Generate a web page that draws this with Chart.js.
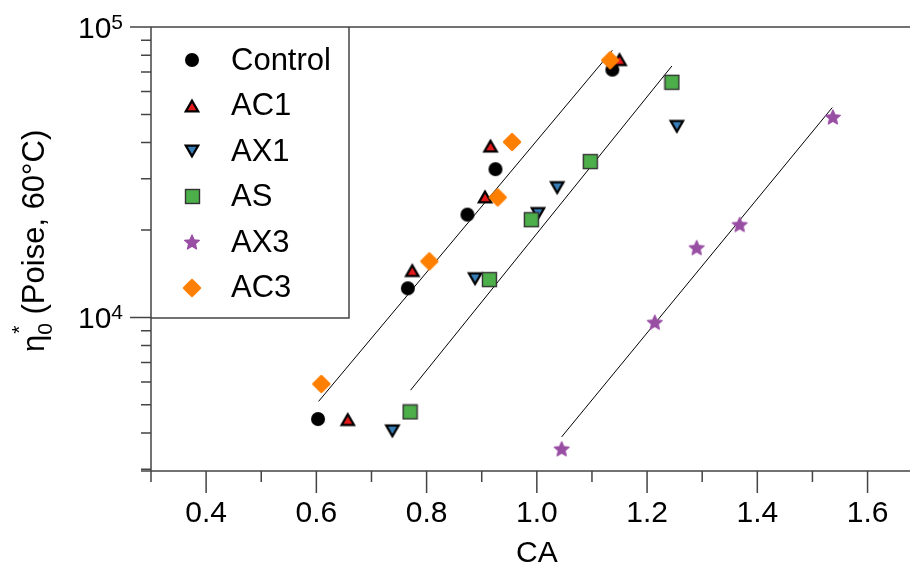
<!DOCTYPE html>
<html>
<head>
<meta charset="utf-8">
<script src="https://cdn.jsdelivr.net/npm/chart.js@4.4.1/dist/chart.umd.min.js"></script>
<style>
  html, body { margin: 0; padding: 0; background: #fff; }
  canvas { display: block; }
</style>
</head>
<body>
<canvas id="myChart" width="918" height="568"></canvas>
<script>
// series names, legend order
const categories = ['Control', 'AC1', 'AX1', 'AS', 'AX3', 'AC3'];

// values (CA, eta0* in Poise)
const controlX = [0.603, 0.766, 0.874, 0.925, 1.137];
const controlY = [4470, 12600, 22600, 32400, 71300];
const ac1X = [0.657, 0.774, 0.906, 0.916, 1.150];
const ac1Y = [4450, 14500, 26000, 38900, 77200];
const ax1X = [0.738, 0.888, 1.002, 1.037, 1.254];
const ax1Y = [4070, 13600, 22800, 28000, 45500];
const asX = [0.770, 0.914, 0.990, 1.097, 1.245];
const asY = [4730, 13500, 21700, 34400, 64500];
const ax3X = [1.045, 1.214, 1.290, 1.368, 1.537];
const ax3Y = [3530, 9630, 17400, 20900, 49000];
const ac3X = [0.609, 0.805, 0.929, 0.955, 1.133];
const ac3Y = [5900, 15600, 25900, 40200, 76800];

// fitted lines, start and end
const fitX = [[0.604, 1.137], [0.771, 1.245], [1.045, 1.536]];
const fitY = [[5140, 83100], [5620, 73400], [3880, 52800]];

// ticks
const xMajor = [0.4, 0.6, 0.8, 1.0, 1.2, 1.4, 1.6];
const xMinor = [0.3, 0.5, 0.7, 0.9, 1.1, 1.3, 1.5];
const yMajor = [10000, 100000];
const yMajorExp = ['4', '5'];
const yMinor = [3000, 4000, 5000, 6000, 7000, 8000, 9000,
                20000, 30000, 40000, 50000, 60000, 70000, 80000, 90000];

const FONT = '"Liberation Sans", Arial, Helvetica, sans-serif';
const AXIS = '#444';

function pts(xs, ys) {
  return xs.map((v, i) => ({ x: v, y: ys[i] }));
}

function newCanvas(s) {
  const c = document.createElement('canvas');
  c.width = s; c.height = s;
  return c;
}

// marker images
function circleMark() {
  const c = newCanvas(16), g = c.getContext('2d');
  g.fillStyle = '#000';
  g.beginPath(); g.arc(8, 8, 7, 0, Math.PI * 2); g.fill();
  return c;
}
function triMark(fill, down) {
  const c = newCanvas(20), g = c.getContext('2d');
  const r = 7.2, h = 1.5 * r, w = r * Math.sqrt(3) / 2;
  const s = down ? -1 : 1;
  g.beginPath();
  g.moveTo(10, 10 - s * h / 2);
  g.lineTo(10 - w, 10 + s * h / 2);
  g.lineTo(10 + w, 10 + s * h / 2);
  g.closePath();
  g.fillStyle = fill; g.fill();
  g.lineWidth = 2.2; g.lineJoin = 'miter'; g.strokeStyle = '#000'; g.stroke();
  return c;
}
function squareMark() {
  const c = newCanvas(17), g = c.getContext('2d');
  g.fillStyle = '#4daf4a';
  g.fillRect(1.5, 1.5, 14, 14);
  g.lineWidth = 1.4; g.strokeStyle = '#333';
  g.strokeRect(1.5, 1.5, 14, 14);
  return c;
}
function starMark() {
  const c = newCanvas(18), g = c.getContext('2d');
  g.beginPath();
  for (let i = 0; i < 10; i++) {
    const r = i % 2 ? 3.6 : 7.8;
    const a = -Math.PI / 2 + i * Math.PI / 5;
    const px = 9 + r * Math.cos(a), py = 9.7 + r * Math.sin(a);
    i ? g.lineTo(px, py) : g.moveTo(px, py);
  }
  g.closePath();
  g.fillStyle = '#984ea3'; g.fill();
  g.lineJoin = 'round'; g.lineWidth = 1.2; g.strokeStyle = '#984ea3'; g.stroke();
  return c;
}
function diamondMark() {
  const c = newCanvas(22), g = c.getContext('2d');
  const r = 7.8;
  g.beginPath();
  g.moveTo(11, 11 - r); g.lineTo(11 + r, 11); g.lineTo(11, 11 + r); g.lineTo(11 - r, 11);
  g.closePath();
  g.fillStyle = '#ff7f00'; g.fill();
  g.lineJoin = 'round'; g.lineWidth = 2.6; g.strokeStyle = '#ff7f00'; g.stroke();
  return c;
}

const markers = [circleMark(), triMark('#e41a1c', false), triMark('#377eb8', true),
                 squareMark(), starMark(), diamondMark()];
const seriesX = [controlX, ac1X, ax1X, asX, ax3X, ac3X];
const seriesY = [controlY, ac1Y, ax1Y, asY, ax3Y, ac3Y];

const datasets = categories.map((name, i) => ({
  type: 'scatter',
  label: name,
  data: pts(seriesX[i], seriesY[i]),
  pointStyle: markers[i],
  pointRadius: 7,
  order: 6 - i
}));
fitX.forEach((fx, i) => {
  datasets.push({
    type: 'line',
    label: 'fit' + (i + 1),
    data: pts(fx, fitY[i]),
    borderColor: '#000',
    borderWidth: 1,
    pointRadius: 0,
    fill: false,
    order: 10
  });
});

// axes, ticks, labels, legend drawn by hand
const framePlugin = {
  id: 'frame',
  afterDraw(chart) {
    const ctx = chart.ctx, a = chart.chartArea;
    const xs = chart.scales.x, ys = chart.scales.y;
    ctx.save();
    ctx.strokeStyle = AXIS;
    ctx.lineWidth = 1.5;
    ctx.beginPath();
    ctx.moveTo(a.left - 21, a.top); ctx.lineTo(a.right, a.top);
    ctx.moveTo(a.left, a.top); ctx.lineTo(a.left, a.bottom);
    ctx.moveTo(a.left - 10, a.bottom); ctx.lineTo(a.right, a.bottom);
    xMajor.forEach(v => {
      const p = xs.getPixelForValue(v);
      ctx.moveTo(p, a.bottom); ctx.lineTo(p, a.bottom + 22);
    });
    xMinor.forEach(v => {
      const p = xs.getPixelForValue(v);
      ctx.moveTo(p, a.bottom); ctx.lineTo(p, a.bottom + 11);
    });
    yMajor.forEach(v => {
      const p = ys.getPixelForValue(v);
      ctx.moveTo(a.left - 21, p); ctx.lineTo(a.left, p);
    });
    yMinor.forEach(v => {
      const p = ys.getPixelForValue(v);
      ctx.moveTo(a.left - 10, p); ctx.lineTo(a.left, p);
    });
    ctx.stroke();

    // tick labels
    ctx.fillStyle = '#000';
    ctx.font = '30px ' + FONT;
    ctx.textAlign = 'center';
    ctx.textBaseline = 'alphabetic';
    xMajor.forEach(v => {
      ctx.fillText(v.toFixed(1), xs.getPixelForValue(v), a.bottom + 51);
    });
    yMajor.forEach((v, i) => {
      const p = ys.getPixelForValue(v);
      ctx.font = '21px ' + FONT;
      const sw = ctx.measureText(yMajorExp[i]).width;
      ctx.textAlign = 'right';
      ctx.fillText(yMajorExp[i], a.left - 28, p + 2);
      ctx.font = '30px ' + FONT;
      ctx.fillText('10', a.left - 28 - sw, p + 11);
    });

    // axis titles
    ctx.textAlign = 'center';
    ctx.font = '30px ' + FONT;
    const mid = (a.left + xs.getPixelForValue(1.7)) / 2;
    ctx.fillText('CA', mid, a.bottom + 91);

    ctx.save();
    ctx.translate(44, 352);
    ctx.rotate(-Math.PI / 2);
    ctx.textAlign = 'left';
    ctx.font = '31px ' + FONT;
    ctx.fillText('\u03b7', 0, 0);
    let w = ctx.measureText('\u03b7').width;
    ctx.font = '21px ' + FONT;
    ctx.fillText('0', w, 8);
    ctx.fillText('*', w + 1, -18);
    w += ctx.measureText('0').width;
    ctx.font = '31px ' + FONT;
    ctx.fillText(' (Poise, 60\u00b0C)', w, 0);
    ctx.restore();

    // legend box
    ctx.strokeStyle = AXIS;
    ctx.lineWidth = 1.5;
    ctx.beginPath();
    ctx.moveTo(349, a.top); ctx.lineTo(349, 318); ctx.lineTo(a.left, 318);
    ctx.stroke();
    ctx.textAlign = 'left';
    ctx.textBaseline = 'middle';
    ctx.font = '31px ' + FONT;
    categories.forEach((name, i) => {
      const cy = 60 + i * 45.5;
      const m = markers[i];
      ctx.drawImage(m, Math.round(192 - m.width / 2), Math.round(cy - m.height / 2));
      ctx.fillText(name, 231, cy + 1);
    });
    ctx.restore();
  }
};

new Chart(document.getElementById('myChart'), {
  type: 'scatter',
  data: { datasets: datasets },
  options: {
    responsive: false,
    animation: false,
    devicePixelRatio: 1,
    layout: { padding: { left: 151, top: 27, right: 0, bottom: 97 } },
    plugins: {
      legend: { display: false },
      tooltip: { enabled: false }
    },
    scales: {
      x: { type: 'linear', min: 0.3, max: 1.677, display: false },
      y: { type: 'logarithmic', min: 2960, max: 100000, display: false }
    }
  },
  plugins: [framePlugin]
});
</script>
</body>
</html>
